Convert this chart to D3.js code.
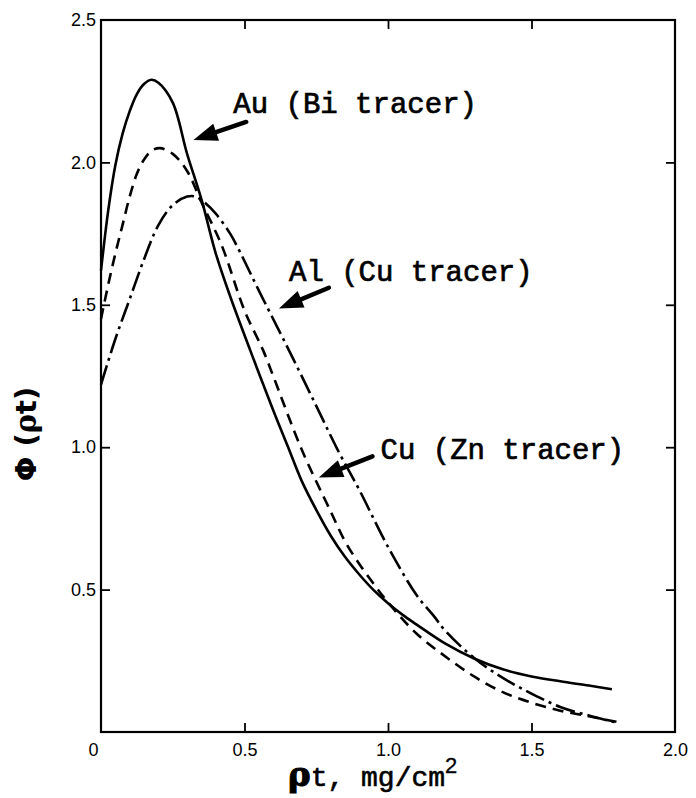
<!DOCTYPE html>
<html>
<head>
<meta charset="utf-8">
<script src="https://cdn.jsdelivr.net/npm/d3@7"></script>
<style>
  body { margin: 0; background: #fff; }
  svg { display: block; }
</style>
</head>
<body>
<svg width="696" height="798"></svg>
<script>
// values (rho*t in mg/cm2, phi)
var auX = [0, 0.025, 0.05, 0.075, 0.1, 0.125, 0.15, 0.175, 0.2, 0.25, 0.3, 0.35, 0.4, 0.45, 0.52, 0.6, 0.65, 0.7, 0.75, 0.8, 0.85, 0.9, 0.95, 1.0, 1.05, 1.1, 1.2, 1.3, 1.4, 1.5, 1.6, 1.7, 1.78];
var auY = [1.62, 1.83, 1.99, 2.1, 2.18, 2.24, 2.275, 2.29, 2.28, 2.21, 2.03, 1.87, 1.68, 1.53, 1.34, 1.13, 1.005, 0.88, 0.78, 0.69, 0.615, 0.553, 0.498, 0.452, 0.412, 0.377, 0.31, 0.258, 0.22, 0.195, 0.178, 0.163, 0.15];

var cuX = [0, 0.025, 0.05, 0.075, 0.1, 0.125, 0.15, 0.175, 0.205, 0.25, 0.3, 0.35, 0.42, 0.5, 0.565, 0.6, 0.7, 0.8, 0.85, 0.9, 0.95, 1.0, 1.1, 1.2, 1.3, 1.4, 1.5, 1.6, 1.7, 1.8];
var cuY = [1.45, 1.57, 1.68, 1.78, 1.88, 1.96, 2.01, 2.04, 2.05, 2.03, 1.97, 1.86, 1.71, 1.48, 1.34, 1.25, 0.99, 0.775, 0.67, 0.59, 0.52, 0.455, 0.345, 0.265, 0.195, 0.14, 0.103, 0.075, 0.055, 0.035];

var alX = [0, 0.05, 0.1, 0.15, 0.2, 0.25, 0.3, 0.33, 0.36, 0.4, 0.45, 0.482, 0.55, 0.655, 0.75, 0.825, 0.9, 1.0, 1.1, 1.16, 1.2, 1.3, 1.4, 1.5, 1.6, 1.7, 1.8];
var alY = [1.22, 1.38, 1.52, 1.66, 1.78, 1.85, 1.88, 1.88, 1.86, 1.82, 1.75, 1.69, 1.55, 1.34, 1.145, 0.99, 0.85, 0.65, 0.48, 0.407, 0.355, 0.26, 0.19, 0.135, 0.088, 0.058, 0.032];

var xTicks = [0, 0.5, 1.0, 1.5, 2.0];
var xTickLabels = ["0", "0.5", "1.0", "1.5", "2.0"];
var yTicks = [0.5, 1.0, 1.5, 2.0, 2.5];
var yTickLabels = ["0.5", "1.0", "1.5", "2.0", "2.5"];

// annotation: label, text anchor point, arrow tail, arrow tip (data units)
var labels = ["Au (Bi tracer)", "Al (Cu tracer)", "Cu (Zn tracer)"];
var labelPos = [[0.461, 2.174], [0.655, 1.585], [0.974, 0.96]];
var arrowTail = [[0.506, 2.142], [0.794, 1.56], [0.946, 0.968]];
var arrowTip = [[0.322, 2.079], [0.62, 1.487], [0.759, 0.894]];

const svg = d3.select("svg");

const x = d3.scaleLinear().domain([0, 2]).range([101, 675]);
const y = d3.scaleLinear().domain([0, 2.5]).range([732, 20]);

// frame
svg.append("rect")
    .attr("x", x(0)).attr("y", y(2.5))
    .attr("width", x(2) - x(0)).attr("height", y(0) - y(2.5))
    .attr("fill", "none").attr("stroke", "#000").attr("stroke-width", 2.2);

// axes with inward ticks
const axisFont = "'Liberation Sans', Arial, sans-serif";

const gB = svg.append("g").attr("transform", `translate(0,${y(0)})`)
    .call(d3.axisBottom(x).tickValues(xTicks).tickSize(-9).tickPadding(11)
        .tickFormat((d, i) => xTickLabels[i]));
const gL = svg.append("g").attr("transform", `translate(${x(0)},0)`)
    .call(d3.axisLeft(y).tickValues(yTicks).tickSize(-9).tickPadding(5)
        .tickFormat((d, i) => yTickLabels[i]));
const gT = svg.append("g").attr("transform", `translate(0,${y(2.5)})`)
    .call(d3.axisTop(x).tickValues([0.5, 1.0, 1.5]).tickSize(-9).tickFormat(""));
const gR = svg.append("g").attr("transform", `translate(${x(2)},0)`)
    .call(d3.axisRight(y).tickValues([0.5, 1.0, 1.5, 2.0]).tickSize(-9).tickFormat(""));

[gB, gL, gT, gR].forEach(g => {
    g.select(".domain").remove();
    g.selectAll(".tick line").attr("stroke", "#000").attr("stroke-width", 1.8);
    g.selectAll("text").attr("font-family", axisFont).attr("font-size", 18).attr("fill", "#000");
});
gB.selectAll(".tick").filter(d => d === 0 || d === 2).select("line").remove();
gL.selectAll(".tick").filter(d => d === 2.5).select("line").remove();
gB.selectAll(".tick").filter(d => d === 0).select("text").attr("dx", -8);

// curves
const line = d3.line().x(d => x(d[0])).y(d => y(d[1])).curve(d3.curveCatmullRom.alpha(0.5));

svg.append("path")
    .datum(d3.zip(auX, auY))
    .attr("d", line)
    .attr("fill", "none").attr("stroke", "#000").attr("stroke-width", 2.6);

svg.append("path")
    .datum(d3.zip(cuX, cuY))
    .attr("d", line)
    .attr("fill", "none").attr("stroke", "#000").attr("stroke-width", 2.6)
    .attr("stroke-dasharray", "11,7");

svg.append("path")
    .datum(d3.zip(alX, alY))
    .attr("d", line)
    .attr("fill", "none").attr("stroke", "#000").attr("stroke-width", 2.6)
    .attr("stroke-dasharray", "20,5,3,5");

// annotations
labels.forEach(function(txt, i) {
    svg.append("text")
        .attr("x", x(labelPos[i][0])).attr("y", y(labelPos[i][1]))
        .attr("font-family", "'Liberation Mono', 'Courier New', monospace")
        .attr("font-size", 29)
        .attr("stroke", "#000").attr("stroke-width", 0.7)
        .text(txt);

    const tx = x(arrowTail[i][0]), ty = y(arrowTail[i][1]);
    const px = x(arrowTip[i][0]), py = y(arrowTip[i][1]);
    const len = Math.hypot(px - tx, py - ty);
    const ux = (px - tx) / len, uy = (py - ty) / len;
    const nx = -uy, ny = ux;
    const headLen = 24, headW = 9;
    const bx = px - ux * headLen, by = py - uy * headLen;

    svg.append("line")
        .attr("x1", tx).attr("y1", ty).attr("x2", bx + ux * 4).attr("y2", by + uy * 4)
        .attr("stroke", "#000").attr("stroke-width", 4.5).attr("stroke-linecap", "round");
    svg.append("path")
        .attr("d", `M${px},${py}L${bx + nx * headW},${by + ny * headW}L${bx - nx * headW},${by - ny * headW}Z`)
        .attr("fill", "#000");
});

// axis titles
const yTitle = svg.append("text")
    .attr("transform", "translate(36,434) rotate(-90)")
    .attr("text-anchor", "middle")
    .attr("font-family", "'DejaVu Sans', sans-serif")
    .attr("font-weight", "bold")
    .attr("font-size", 29);
yTitle.append("tspan").text("Φ (");
yTitle.append("tspan").attr("font-family", "'DejaVu Serif', serif").text("ρ");
yTitle.append("tspan").text("t)");

const xTitle = svg.append("text")
    .attr("x", 288).attr("y", 786)
    .attr("font-family", "'Liberation Mono', 'Courier New', monospace")
    .attr("font-size", 28)
    .attr("stroke", "#000").attr("stroke-width", 0.6);
xTitle.append("tspan").attr("font-family", "'DejaVu Serif', serif").attr("font-weight", "bold")
    .attr("font-size", 34).attr("stroke-width", 1).text("ρ");
xTitle.append("tspan").text("t, mg/cm");
xTitle.append("tspan").attr("font-family", "'Liberation Sans', Arial, sans-serif")
    .attr("font-size", 22).attr("dy", -13).attr("stroke-width", 0.3).text("2");
</script>
</body>
</html>
